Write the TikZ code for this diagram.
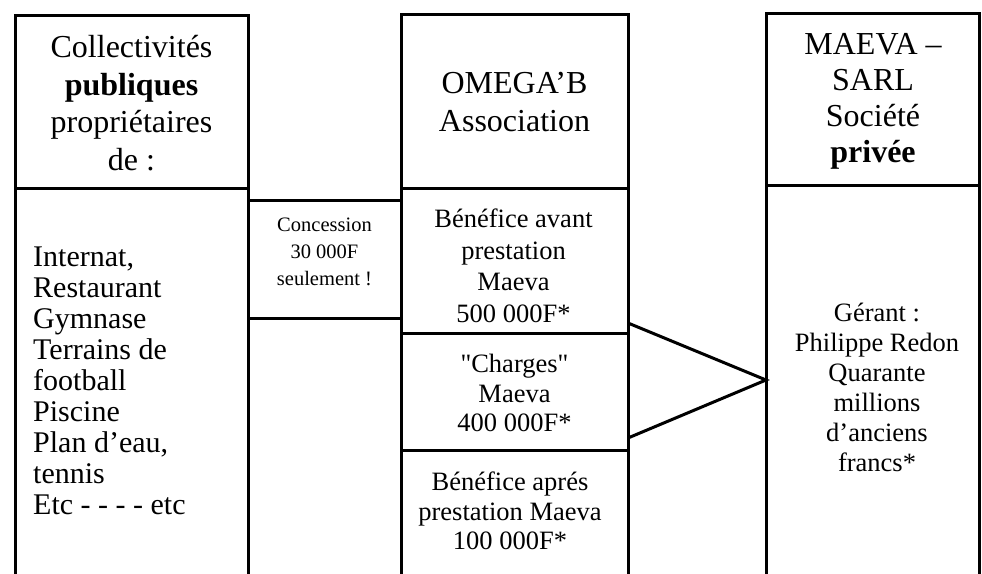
\documentclass[tikz,border=0pt]{standalone}
\usepackage{fontspec}
\setmainfont{Liberation Serif}
\newfontfamily\plainserif{Liberation Serif}

\begin{document}
\begin{tikzpicture}[x=1pt,y=-1pt,
		frame/.style={line width=3pt},
		head/.style={align=center,inner sep=0pt,font=\fontsize{32}{37.5}\selectfont},
		cellt/.style={align=center,inner sep=0pt,font=\fontsize{26.5}{29.5}\selectfont},
		smallt/.style={align=center,inner sep=0pt,font=\fontsize{20.5}{27}\selectfont}]
		\useasboundingbox[fill=white] (0,0) rectangle (982,573);
		\clip (0,0) rectangle (982,573);
		% left column
		\draw[frame] (15,590) |- (248,15) -- (248,590);
		\draw[frame] (15,188) -- (248,188);
		\node[head] (coll) at (131.5,103) {Collectivités\\\textbf{publiques}\\propriétaires\\de :};
		\node[align=left,inner sep=0pt,anchor=west,font=\fontsize{30}{31}\selectfont] (biens) at (33,381) {Internat,\\Restaurant\\Gymnase\\Terrains de\\football\\Piscine\\Plan d’eau,\\tennis\\Etc - - - - etc};
		% concession
		\draw[frame] (248,200) -- (401,200);
		\draw[frame] (248,318) -- (401,318);
		\node[smallt] (conc) at (324.5,252) {Concession\\30 000F\\seulement !};
		% middle column
		\draw[frame] (401,590) |- (628,14) -- (628,590);
		\foreach \y in {188,333,450}
			\draw[frame] (401,\y) -- (628,\y);
		\node[head] (omega) at (514.5,102) {OMEGA’B\\Association};
		\node[cellt,font=\fontsize{26.5}{31.5}\selectfont] (avant) at (513.5,266) {Bénéfice avant\\prestation\\Maeva\\500 000F*};
		\node[cellt] (charges) at (514.5,393) {{\plainserif"}Charges{\plainserif"}\\Maeva\\400 000F*};
		\node[cellt] (apres) at (510,511) {Bénéfice aprés\\prestation Maeva\\100 000F*};
		% right column
		\draw[frame] (766,590) |- (979,13) -- (979,590);
		\draw[frame] (766,185) -- (979,185);
		\node[head,font=\fontsize{32}{36}\selectfont] (maeva) at (873,101) {MAEVA –\\SARL\\Société\\\textbf{privée}};
		\node[cellt,font=\fontsize{26.5}{30}\selectfont] (gerant) at (877,387) {Gérant :\\Philippe Redon\\Quarante\\millions\\d’anciens\\francs*};
		% link
		\coordinate (ltop) at (628,323);
		\coordinate (lbot) at (628,438);
		\coordinate (tip) at (766,380);
		\draw[frame] (ltop) -- (tip) -- (lbot);
	\end{tikzpicture}
\end{document}
